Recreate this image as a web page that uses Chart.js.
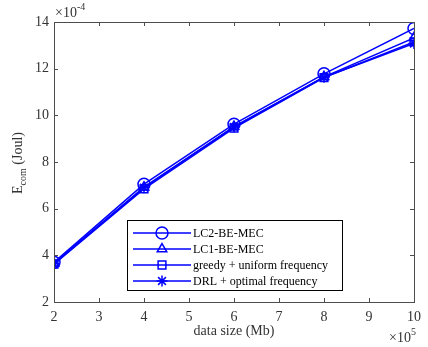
<!DOCTYPE html>
<html>
<head>
<meta charset="utf-8">
<script src="https://cdn.jsdelivr.net/npm/chart.js@4"></script>
<style>
  html, body { margin: 0; padding: 0; background: #fff; }
  #wrap { width: 428px; height: 347px; }
</style>
</head>
<body>
<div id="wrap"><canvas id="grafico" width="428" height="347"></canvas></div>
<script>
// dados (x em 1e5 Mb, y em 1e-4 Joul)
let tamanhos = [2, 4, 6, 8, 10];
let nomes = ["LC2-BE-MEC", "LC1-BE-MEC", "greedy + uniform frequency", "DRL + optimal frequency"];
let lc2 = [3.70, 7.05, 9.62, 11.78, 13.72];
let lc1 = [3.65, 6.92, 9.52, 11.65, 13.32];
let greedy = [3.62, 6.85, 9.45, 11.62, 13.15];
let drl = [3.64, 6.90, 9.50, 11.63, 13.08];
let marcadores = ["circle", "triangle", "rect", "star"];

let azul = "#0000ff";
let cinza = "#4d4d4d";
let fonte = "Liberation Serif";

let series = [lc2, lc1, greedy, drl];

let datasets = series.map((vals, i) => ({
  label: nomes[i],
  data: vals.map((v, j) => ({ x: tamanhos[j], y: v })),
  borderColor: azul,
  backgroundColor: "rgba(0,0,0,0)",
  borderWidth: 1.5,
  pointStyle: marcadores[i],
  pointRadius: i == 0 ? 6 : 5.5,
  pointBorderWidth: 1.5,
  pointBorderColor: azul,
  pointBackgroundColor: "rgba(0,0,0,0)",
  tension: 0
}));

// escreve base + expoente
function potencia(ctx, base, exp, x, y) {
  ctx.font = "14px '" + fonte + "'";
  ctx.fillText(base, x, y);
  let w = ctx.measureText(base).width;
  ctx.font = "10px '" + fonte + "'";
  ctx.fillText(exp, x + w, y - 7);
}

// caixa estilo matlab, ticks pra dentro
let caixa = {
  id: "caixa",
  afterDatasetsDraw(chart) {
    let ctx = chart.ctx;
    let a = chart.chartArea;
    let sx = chart.scales.x;
    let sy = chart.scales.y;
    ctx.save();
    ctx.strokeStyle = cinza;
    ctx.lineWidth = 1;
    ctx.strokeRect(a.left + 0.5, a.top + 0.5, a.right - a.left, a.bottom - a.top);
    sx.ticks.forEach(t => {
      let px = Math.round(sx.getPixelForValue(t.value)) + 0.5;
      ctx.beginPath();
      ctx.moveTo(px, a.bottom); ctx.lineTo(px, a.bottom - 4);
      ctx.moveTo(px, a.top); ctx.lineTo(px, a.top + 4);
      ctx.stroke();
    });
    sy.ticks.forEach(t => {
      let py = Math.round(sy.getPixelForValue(t.value)) + 0.5;
      ctx.beginPath();
      ctx.moveTo(a.left, py); ctx.lineTo(a.left + 4, py);
      ctx.moveTo(a.right, py); ctx.lineTo(a.right - 4, py);
      ctx.stroke();
    });

    // legenda
    let lx = 127, ly = 220, lw = 215, lh = 70;
    ctx.fillStyle = "#fff";
    ctx.fillRect(lx, ly, lw, lh);
    ctx.strokeStyle = "#000";
    ctx.strokeRect(lx + 0.5, ly + 0.5, lw, lh);
    chart.data.datasets.forEach((ds, i) => {
      let y = ly + 13 + i * 16;
      ctx.strokeStyle = azul;
      ctx.lineWidth = 1.5;
      ctx.beginPath();
      ctx.moveTo(lx + 6, y); ctx.lineTo(lx + 64, y);
      ctx.stroke();
      ctx.fillStyle = "rgba(0,0,0,0)";
      Chart.helpers.drawPoint(ctx, {
        pointStyle: ds.pointStyle,
        radius: ds.pointRadius,
        borderWidth: 1.5,
        rotation: 0
      }, lx + 35, y);
      ctx.fillStyle = "#000";
      ctx.font = "12px '" + fonte + "'";
      ctx.textBaseline = "middle";
      ctx.textAlign = "left";
      ctx.fillText(ds.label, lx + 66, y + 1);
    });

    // textos dos eixos
    ctx.fillStyle = "#333";
    ctx.textBaseline = "alphabetic";
    ctx.font = "14px '" + fonte + "'";
    ctx.textAlign = "center";
    ctx.fillText("data size (Mb)", (a.left + a.right) / 2, 335);

    ctx.textAlign = "left";
    potencia(ctx, "\u00d710", "-4", 55, 17);
    potencia(ctx, "\u00d710", "5", 389, 342);

    // E_com (Joul)
    ctx.translate(22, 163);
    ctx.rotate(-Math.PI / 2);
    ctx.font = "14px '" + fonte + "'";
    let w1 = ctx.measureText("E").width;
    ctx.font = "10px '" + fonte + "'";
    let w2 = ctx.measureText("com").width;
    ctx.font = "14px '" + fonte + "'";
    let w3 = ctx.measureText(" (Joul)").width;
    let x0 = -(w1 + w2 + w3) / 2;
    ctx.fillText("E", x0, 0);
    ctx.font = "10px '" + fonte + "'";
    ctx.fillText("com", x0 + w1, 4);
    ctx.font = "14px '" + fonte + "'";
    ctx.fillText(" (Joul)", x0 + w1 + w2, 0);
    ctx.restore();
  }
};

let ctx = document.getElementById("grafico").getContext("2d");
let chart = new Chart(ctx, {
  type: "line",
  data: { datasets: datasets },
  plugins: [caixa],
  options: {
    responsive: false,
    animation: false,
    layout: { padding: { top: 22, right: 10, left: 0, bottom: 0 } },
    plugins: { legend: { display: false }, tooltip: { enabled: false } },
    scales: {
      x: {
        type: "linear",
        min: 2, max: 10,
        grid: { display: false, drawTicks: false },
        border: { display: false },
        ticks: { stepSize: 1, color: "#333", padding: 7, font: { family: fonte, size: 14 } },
        afterFit(s) { s.height = 45; }
      },
      y: {
        min: 2, max: 14,
        grid: { display: false, drawTicks: false },
        border: { display: false },
        ticks: { stepSize: 2, color: "#333", padding: 5, font: { family: fonte, size: 14 } },
        afterFit(s) { s.width = 54; }
      }
    }
  }
});
</script>
</body>
</html>
